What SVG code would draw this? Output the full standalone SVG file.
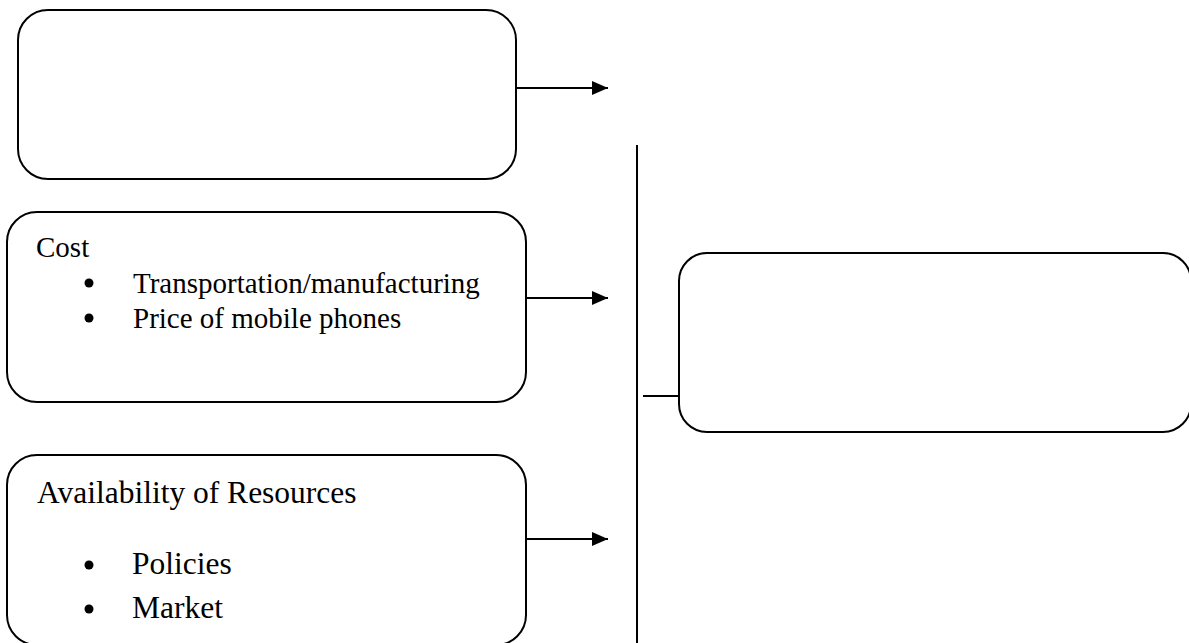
<svg xmlns="http://www.w3.org/2000/svg" width="1189" height="643" viewBox="0 0 1189 643">
  <style>
    .box { fill: #fff; stroke: #000; stroke-width: 2; }
    .conn { stroke: #000; stroke-width: 2; fill: none; }
    .t { font-family: "Liberation Serif", "Times New Roman", serif; fill: #000; }
    .s1 { font-size: 29px; }
    .s2 { font-size: 31.5px; }
  </style>
  <defs>
    <marker id="arrow" viewBox="0 0 16 14" refX="16" refY="7" markerWidth="16" markerHeight="14" markerUnits="userSpaceOnUse" orient="auto">
      <path d="M0,0 L16,7 L0,14 z" fill="#000"/>
    </marker>
  </defs>
  <rect width="1189" height="643" fill="#fff"/>

  <g id="node-empty-top">
    <rect class="box" x="18" y="10" width="498" height="169" rx="30" ry="30"/>
  </g>

  <g id="node-cost">
    <rect class="box" x="7" y="212" width="519" height="190" rx="30" ry="30"/>
    <text class="t s1" x="36" y="257">Cost</text>
    <circle cx="89" cy="283" r="4.5" fill="#000"/>
    <text class="t s1" x="133" y="293">Transportation/manufacturing</text>
    <circle cx="89" cy="318" r="4.5" fill="#000"/>
    <text class="t s1" x="133" y="328">Price of mobile phones</text>
  </g>

  <g id="node-resources">
    <rect class="box" x="7" y="455" width="519" height="190" rx="30" ry="30"/>
    <text class="t s2" x="37" y="503">Availability of Resources</text>
    <circle cx="89" cy="565" r="4.5" fill="#000"/>
    <text class="t s2" x="132" y="574">Policies</text>
    <circle cx="89" cy="609" r="4.5" fill="#000"/>
    <text class="t s2" x="132" y="618">Market</text>
  </g>

  <g id="node-outcome">
    <rect class="box" x="679" y="253" width="512" height="179" rx="28" ry="28"/>
  </g>

  <g id="connectors">
    <line class="conn" x1="516" y1="88" x2="608" y2="88" marker-end="url(#arrow)"/>
    <line class="conn" x1="526" y1="298" x2="608" y2="298" marker-end="url(#arrow)"/>
    <line class="conn" x1="526" y1="539" x2="608" y2="539" marker-end="url(#arrow)"/>
    <line class="conn" x1="637" y1="145" x2="637" y2="643"/>
    <line class="conn" x1="643" y1="396" x2="679" y2="396"/>
  </g>
</svg>
